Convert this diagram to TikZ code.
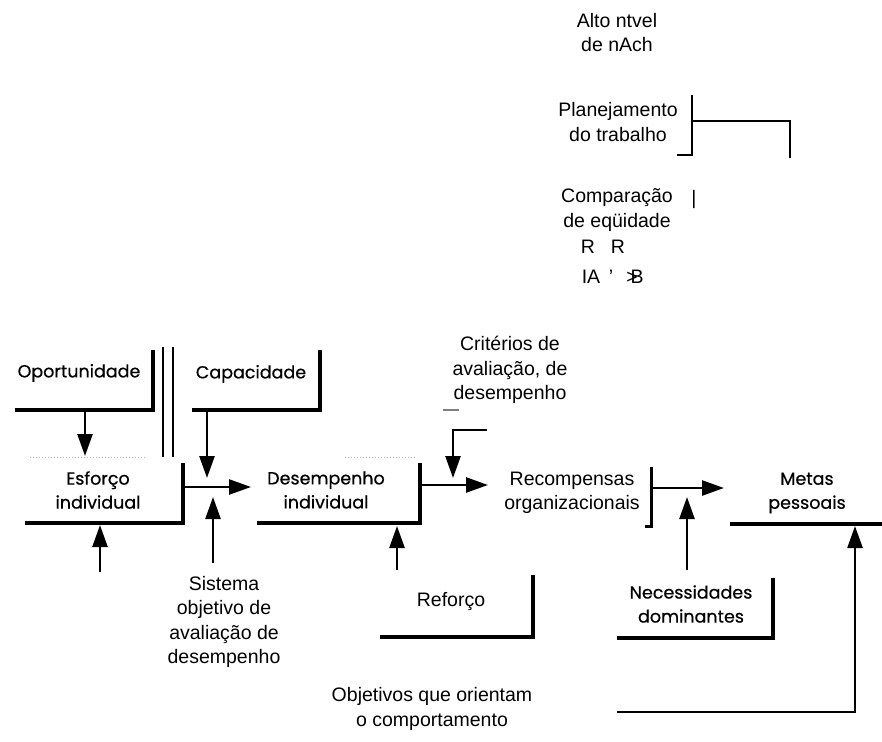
\documentclass[tikz,border=0pt]{standalone}
\usepackage{fontspec}
\setmainfont{Liberation Sans}
\newfontfamily\boxfont{Poppins}[FakeBold=0.6]
\usetikzlibrary{arrows.meta}
\tikzset{
  lbl/.style={font=\fontsize{19.5}{24.5}\selectfont, align=center, inner sep=0pt},
  blbl/.style={font=\boxfont\fontsize{17.5}{24}\selectfont, align=center, inner sep=0pt},
  shadowline/.style={line width=3.5pt},
  plain/.style={line width=2.5pt},
  arr/.style={line width=2.5pt, -{Triangle[length=22pt,width=15pt]}},
  faint/.style={gray!60, dotted, line width=1pt}
}
\begin{document}
\begin{tikzpicture}[x=1pt,y=-1pt]
\useasboundingbox (0,0) rectangle (882,741);

% --- top texts
\node[lbl] (alto) at (617,32.5) {Alto ntvel\\de nAch};
\node[lbl] (plan) at (618,122) {Planejamento\\do trabalho};
\node[lbl] (comp) at (617,210) {Comparação\\de eqüidade};
\node[lbl] (bar) at (694,199) {|};
\node[lbl] (rr) at (603,247) {R\hspace{16pt}R};
\node[lbl] (ia) at (591,277) {IA};
\node[lbl] (apos) at (611,277) {'};
\node[lbl] (gb) at (635,277) {>\kern-7pt B};

% planning bracket
\coordinate (pl1) at (677,155);
\coordinate (pl2) at (692,155);
\coordinate (pl3) at (692,95);
\coordinate (pl4) at (692,121);
\coordinate (pl5) at (790,121);
\coordinate (pl6) at (790,158);
\draw[plain] (pl1) -- (pl2) -- (pl3);
\draw[plain] (pl4) -- (pl5) -- (pl6);

% --- labels
\node[lbl] (crit) at (510,370) {Critérios de\\avaliação, de\\desempenho};
\node[blbl] (opor) at (79,373) {Oportunidade};
\node[blbl] (capa) at (251,374) {Capacidade};
\node[blbl] (esf) at (98,490) {Esforço\\individual};
\node[blbl] (des) at (326,490) {Desempenho\\individual};
\node[lbl] (rec) at (572,493) {Recompensas\\organizacionais};
\node[blbl] (metas) at (807,493) {Metas\\pessoais};
\node[lbl] (sist) at (224,622) {Sistema\\objetivo de\\avaliação de\\desempenho};
\node[lbl] (ref) at (451,602) {Reforço};
\node[blbl] (nec) at (691,604) {Necessidades\\dominantes};
\node[lbl] (obj) at (432,709) {Objetivos que orientam\\o comportamento};

% --- box shadows
\coordinate (opBL) at (15,410);  \coordinate (opBR) at (153,410); \coordinate (opTR) at (153,350);
\draw[shadowline] (opBL) -- (opBR) -- (opTR);
\coordinate (caBL) at (192,410); \coordinate (caBR) at (320,410); \coordinate (caTR) at (320,350);
\draw[shadowline] (caBL) -- (caBR) -- (caTR);
\coordinate (esBL) at (25,523);  \coordinate (esBR) at (183,523); \coordinate (esTR) at (183,463);
\draw[shadowline] (esBL) -- (esBR) -- (esTR);
\coordinate (deBL) at (257,523); \coordinate (deBR) at (420,523); \coordinate (deTR) at (420,463);
\draw[shadowline] (deBL) -- (deBR) -- (deTR);
\coordinate (reBL) at (645,526); \coordinate (reBR) at (651,526); \coordinate (reTR) at (651,467);
\draw[line width=3pt] (reBL) -- (reBR) -- (reTR);
\coordinate (meBL) at (730,524); \coordinate (meBR) at (882,524);
\draw[shadowline] (meBL) -- (meBR);
\coordinate (rfBL) at (380,637); \coordinate (rfBR) at (533,637); \coordinate (rfTR) at (533,575);
\draw[shadowline] (rfBL) -- (rfBR) -- (rfTR);
\coordinate (neBL) at (617,638); \coordinate (neBR) at (773,638); \coordinate (neTR) at (773,578);
\draw[shadowline] (neBL) -- (neBR) -- (neTR);

% faint top edges
\coordinate (esTL) at (30,457); \coordinate (esTT) at (145,457);
\draw[faint] (esTL) -- (esTT);
\coordinate (deTL) at (345,457); \coordinate (deTT) at (415,457);
\draw[faint] (deTL) -- (deTT);

% double line
\coordinate (dl1a) at (163,347); \coordinate (dl1b) at (163,457);
\coordinate (dl2a) at (173,347); \coordinate (dl2b) at (173,457);
\draw[plain] (dl1a) -- (dl1b);
\draw[plain] (dl2a) -- (dl2b);

% --- arrows
\coordinate (a1s) at (85,410);  \coordinate (a1e) at (85,456);
\draw[arr] (a1s) -- (a1e);
\coordinate (a2s) at (207,410); \coordinate (a2e) at (207,478);
\draw[arr] (a2s) -- (a2e);
\coordinate (a3s) at (183,487); \coordinate (a3e) at (251,487);
\draw[arr] (a3s) -- (a3e);
\coordinate (a4s) at (100,572); \coordinate (a4e) at (100,525);
\draw[arr] (a4s) -- (a4e);
\coordinate (a5s) at (213,563); \coordinate (a5e) at (213,497);
\draw[arr] (a5s) -- (a5e);
\coordinate (a6s) at (420,485); \coordinate (a6e) at (488,485);
\draw[arr] (a6s) -- (a6e);
\coordinate (a7s) at (487,430); \coordinate (a7m) at (453,430); \coordinate (a7e) at (453,478);
\draw[arr] (a7s) -- (a7m) -- (a7e);
\coordinate (cm1) at (443,410); \coordinate (cm2) at (459,410);
\draw[line width=2pt, gray] (cm1) -- (cm2);
\coordinate (a8s) at (397,570); \coordinate (a8e) at (397,526);
\draw[arr] (a8s) -- (a8e);
\coordinate (a9s) at (651,488); \coordinate (a9e) at (724,488);
\draw[arr] (a9s) -- (a9e);
\coordinate (a10s) at (687,570); \coordinate (a10e) at (687,497);
\draw[arr] (a10s) -- (a10e);
\coordinate (a11s) at (617,712); \coordinate (a11m) at (855,712); \coordinate (a11e) at (855,526);
\draw[arr] (a11s) -- (a11m) -- (a11e);
\end{tikzpicture}
\end{document}
